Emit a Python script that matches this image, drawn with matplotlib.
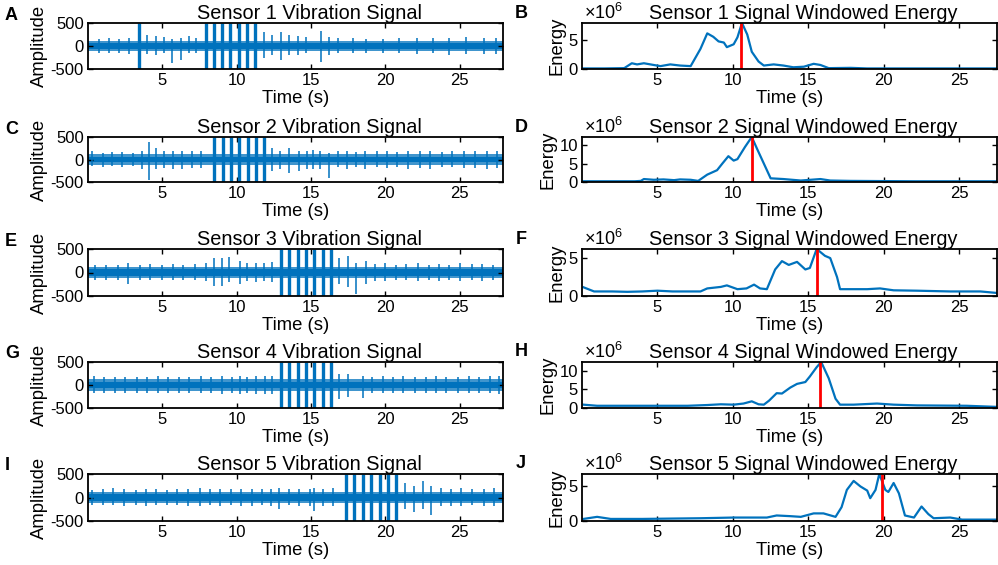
import matplotlib.pyplot as plt

plt.rcParams['font.family'] = ['Liberation Sans', 'DejaVu Sans']
plt.rcParams['axes.unicode_minus'] = False
plt.rcParams['mathtext.fontset'] = 'custom'
plt.rcParams['mathtext.rm'] = 'Liberation Sans'

BLUE = '#0072BD'

sensors = ['Sensor 1', 'Sensor 2', 'Sensor 3', 'Sensor 4', 'Sensor 5']
left_letters = ['A', 'C', 'E', 'G', 'I']
right_letters = ['B', 'D', 'F', 'H', 'J']
time_ticks = [5, 10, 15, 20, 25]
amp_ticks = [-500, 0, 500]

# vibration: background noise (dense core, lighter fringe) and visible peaks (time s, up, down)
noise_core = [65, 65, 70, 75, 65]
noise_fringe = [115, 115, 120, 125, 110]

s1_spikes = [(0.75, 150, 150), (1.4, 170, 150), (2.1, 160, 150), (2.76, 180, 170),
             (3.43, 500, 500), (4.0, 230, 170), (4.55, 220, 200), (5.1, 200, 150),
             (5.63, 150, 370), (6.24, 180, 310), (6.8, 220, 150), (7.25, 180, 150),
             (7.92, 500, 500), (8.48, 500, 500), (9.0, 500, 500), (9.54, 500, 500),
             (10.12, 500, 500), (10.66, 500, 500), (11.2, 500, 500), (11.85, 300, 250),
             (12.4, 250, 200), (12.97, 300, 300), (13.5, 250, 200), (14.1, 220, 200),
             (14.66, 200, 150), (15.67, 320, 350), (16.2, 200, 200), (16.8, 180, 150),
             (17.8, 180, 150), (18.7, 160, 150), (19.8, 150, 150), (20.9, 170, 150),
             (22.1, 170, 170), (23.2, 180, 160), (24.3, 180, 200), (25.4, 200, 170),
             (26.6, 180, 170), (27.45, 170, 170)]

s2_spikes = [(0.3, 180, 150), (1.0, 150, 170), (1.6, 160, 150), (2.3, 170, 160),
             (3.0, 150, 150), (3.6, 180, 200), (4.1, 380, 460), (4.55, 250, 200),
             (5.1, 180, 180), (5.7, 200, 200), (6.35, 200, 200), (7.0, 190, 180),
             (7.6, 200, 180), (8.48, 500, 500), (9.05, 500, 500), (9.6, 500, 500),
             (10.17, 500, 500), (10.73, 500, 500), (11.3, 500, 500), (11.85, 500, 500),
             (12.4, 250, 250), (12.9, 200, 200), (13.5, 250, 300), (14.2, 200, 250),
             (14.7, 180, 200), (15.1, 220, 220), (15.6, 200, 200), (16.2, 150, 400),
             (16.8, 180, 170), (17.4, 200, 200), (18.0, 170, 170), (18.6, 200, 200),
             (19.4, 180, 160), (20.1, 200, 180), (20.8, 170, 170), (21.5, 190, 200),
             (22.3, 200, 180), (23.0, 180, 200), (23.8, 170, 170), (24.5, 180, 160),
             (25.3, 200, 180), (26.0, 180, 180), (26.8, 200, 200), (27.5, 180, 180)]

s3_spikes = [(0.5, 150, 160), (1.2, 160, 150), (2.0, 150, 170), (2.7, 200, 250),
             (3.5, 170, 160), (4.2, 180, 170), (5.0, 170, 150), (5.7, 180, 170),
             (6.4, 160, 160), (7.2, 180, 170), (7.9, 200, 180), (8.48, 300, 280),
             (9.0, 300, 280), (9.5, 320, 200), (10.2, 250, 250), (10.7, 200, 180),
             (11.3, 200, 200), (11.8, 200, 180), (12.4, 220, 200), (12.97, 500, 500),
             (13.5, 500, 500), (14.1, 500, 500), (14.66, 500, 500), (15.2, 500, 500),
             (15.78, 500, 500), (16.34, 500, 500), (16.9, 300, 250), (17.5, 350, 300),
             (18.0, 200, 450), (18.7, 250, 250), (19.3, 180, 180), (20.0, 200, 180),
             (20.7, 170, 170), (21.4, 180, 160), (22.2, 200, 180), (22.9, 170, 170),
             (23.6, 180, 180), (24.3, 170, 170), (25.0, 200, 180), (25.8, 180, 170),
             (26.5, 190, 180), (27.2, 170, 170)]

s4_spikes = [(0.4, 200, 180), (1.1, 180, 170), (1.8, 170, 170), (2.5, 180, 180),
             (3.3, 170, 170), (4.0, 180, 170), (4.7, 190, 180), (5.4, 170, 170),
             (6.1, 180, 180), (6.8, 180, 170), (7.6, 190, 180), (8.3, 180, 180),
             (9.0, 200, 200), (9.7, 180, 180), (10.2, 200, 200), (10.7, 180, 180),
             (11.3, 200, 200), (11.9, 190, 190), (12.4, 200, 200), (12.97, 500, 500),
             (13.5, 500, 500), (14.1, 500, 500), (14.66, 500, 500), (15.2, 500, 500),
             (15.78, 500, 500), (16.34, 500, 500), (16.9, 250, 300), (17.5, 250, 250),
             (18.5, 200, 280), (19.1, 180, 180), (19.8, 190, 180), (20.5, 180, 170),
             (21.2, 190, 180), (22.0, 180, 180), (22.7, 180, 170), (23.4, 190, 180),
             (24.1, 180, 180), (24.9, 180, 170), (25.6, 200, 180), (26.3, 180, 180),
             (27.0, 190, 180), (27.6, 200, 190)]

s5_spikes = [(0.3, 170, 160), (1.0, 180, 170), (1.7, 200, 170), (2.4, 180, 180),
             (3.2, 170, 160), (3.9, 190, 180), (4.6, 180, 170), (5.3, 170, 170),
             (6.0, 180, 170), (6.7, 180, 180), (7.5, 200, 180), (8.2, 180, 170),
             (8.9, 190, 180), (9.6, 180, 170), (10.3, 180, 180), (11.0, 190, 180),
             (11.7, 180, 170), (12.3, 190, 180), (12.86, 200, 250), (13.5, 180, 170),
             (14.2, 190, 180), (14.9, 180, 180), (15.2, 200, 280), (15.8, 190, 180),
             (16.5, 200, 190), (17.35, 500, 500), (17.9, 500, 500), (18.47, 500, 500),
             (19.03, 500, 500), (19.6, 500, 500), (20.16, 500, 500), (20.72, 500, 500),
             (21.3, 300, 250), (21.95, 250, 300), (22.5, 350, 250), (23.07, 250, 380),
             (23.7, 200, 180), (24.4, 190, 180), (25.1, 200, 180), (25.8, 180, 170),
             (26.6, 190, 180), (27.3, 200, 180)]

vib_spikes = [s1_spikes, s2_spikes, s3_spikes, s4_spikes, s5_spikes]

# windowed energy, in units of 1e6
e1_t = [0.1, 1.5, 2.8, 3.3, 3.65, 4.1, 4.75, 5.2, 5.85, 6.5, 7.2, 7.85, 8.3, 8.7,
        9.05, 9.4, 9.6, 10.05, 10.3, 10.6, 10.95, 11.25, 11.7, 12.05, 12.7, 13.35,
        14.0, 14.7, 15.35, 15.8, 16.35, 17.8, 18.9, 22.0, 27.5]
e1_v = [0.1, 0.1, 0.15, 1.0, 0.8, 1.0, 0.7, 0.5, 0.8, 0.6, 0.5, 3.5, 6.2, 5.6,
        4.8, 4.6, 3.8, 4.3, 5.5, 8.0, 6.0, 3.0, 1.3, 0.6, 0.8, 0.6,
        0.3, 0.4, 0.9, 0.7, 0.15, 0.2, 0.1, 0.1, 0.1]

e2_t = [0.1, 2.0, 3.5, 3.9, 4.1, 4.75, 5.4, 6.1, 6.5, 7.2, 7.7, 8.3, 8.95, 9.3,
        9.7, 10.05, 10.3, 10.8, 11.25, 11.6, 12.05, 12.5, 13.35, 14.5, 15.8, 16.45,
        17.8, 22.0, 27.5]
e2_v = [0.2, 0.2, 0.2, 0.3, 0.8, 0.6, 0.7, 0.5, 0.7, 0.6, 0.3, 2.0, 3.2, 5.0,
        7.0, 5.8, 6.2, 9.5, 12.2, 9.0, 5.0, 1.0, 0.8, 0.4, 0.8, 0.4,
        0.3, 0.2, 0.2]

e3_t = [0.1, 0.8, 2.0, 3.0, 4.0, 5.0, 6.0, 7.0, 7.85, 8.3, 9.2, 9.6, 10.3, 10.9,
        11.4, 11.8, 12.25, 12.8, 13.25, 13.7, 14.25, 14.8, 15.1, 15.55, 16.1, 16.45,
        16.9, 17.1, 18.0, 18.9, 19.75, 20.65, 22.2, 24.4, 26.4, 27.5]
e3_v = [1.15, 0.6, 0.6, 0.55, 0.6, 0.7, 0.6, 0.6, 0.6, 1.0, 1.2, 1.4, 0.9, 1.0,
        1.5, 1.0, 0.9, 3.5, 4.6, 4.1, 4.5, 3.5, 3.7, 6.2, 5.3, 5.0,
        2.5, 0.9, 0.9, 0.9, 1.0, 0.75, 0.7, 0.6, 0.6, 0.4]

e4_t = [0.1, 1.0, 3.0, 5.0, 7.0, 8.3, 9.2, 10.05, 10.7, 11.25, 11.7, 12.05, 12.4,
        12.9, 13.25, 13.8, 14.25, 14.8, 15.1, 15.55, 15.85, 16.35, 16.8, 17.1, 18.0,
        19.55, 20.65, 22.2, 25.5, 27.5]
e4_v = [0.9, 0.6, 0.6, 0.6, 0.6, 0.8, 1.0, 0.9, 1.2, 1.8, 1.0, 0.9, 2.0,
        4.0, 3.9, 5.5, 6.5, 7.0, 8.5, 11.0, 12.4, 8.0, 2.5, 0.9, 0.9,
        1.2, 0.9, 0.7, 0.6, 0.3]

e5_t = [0.1, 1.0, 1.9, 4.0, 7.85, 10.05, 12.25, 12.9, 13.8, 14.5, 15.35, 16.0, 16.8,
        17.2, 17.55, 18.0, 18.45, 18.9, 19.1, 19.45, 19.7, 20.1, 20.3, 20.65, 21.0,
        21.4, 22.0, 22.5, 22.95, 23.3, 24.4, 25.2, 27.5]
e5_v = [0.3, 0.6, 0.3, 0.3, 0.4, 0.5, 0.5, 0.8, 0.7, 0.6, 1.1, 1.1, 0.6,
        2.0, 4.5, 5.8, 5.0, 4.4, 3.3, 4.5, 6.8, 4.5, 4.2, 5.5, 4.0,
        0.8, 0.5, 2.1, 1.0, 0.4, 0.5, 0.2, 0.2]

energy_t = [e1_t, e2_t, e3_t, e4_t, e5_t]
energy_v = [e1_v, e2_v, e3_v, e4_v, e5_v]
peak_times = [10.54, 11.27, 15.57, 15.8, 19.87]
energy_top = [8.0, 12.2, 6.2, 12.4, 6.8]
energy_ticks = [[0, 5], [0, 5, 10], [0, 5], [0, 5, 10], [0, 5]]

vib_xmax = 27.9
energy_xmax = 27.5

W, H = 998, 565
row_top = [23, 137, 249, 362, 474]
row_bot = [69, 182, 296, 408, 521]


def rect(x0, x1, y0, y1):
    return [x0 / W, 1 - y1 / H, (x1 - x0) / W, (y1 - y0) / H]


def style(ax):
    for sp in ax.spines.values():
        sp.set_linewidth(1.3)
    ax.tick_params(direction='in', top=True, right=True, length=3.5, width=1,
                   labelsize=12, pad=3)


fig = plt.figure(figsize=(9.98, 5.65), dpi=100)

for i in range(5):
    # vibration signal
    ax = fig.add_axes(rect(88, 503, row_top[i], row_bot[i]))
    ax.fill_between([0, vib_xmax], -noise_fringe[i], noise_fringe[i],
                    color=BLUE, alpha=0.75, lw=0)
    ax.fill_between([0, vib_xmax], -noise_core[i], noise_core[i],
                    color=BLUE, lw=0)
    for t, up, dn in vib_spikes[i]:
        lw = 2.4 if up >= 500 else 1.1
        ax.vlines(t, -dn, up, color=BLUE, lw=lw)
    ax.set_xlim(0, vib_xmax)
    ax.set_ylim(-500, 500)
    ax.set_xticks(time_ticks)
    ax.set_yticks(amp_ticks)
    ax.set_yticklabels([str(v) for v in amp_ticks])
    ax.set_xlabel('Time (s)', fontsize=13.3, labelpad=1)
    ax.set_ylabel('Amplitude', fontsize=13.3, labelpad=2)
    ax.set_title(sensors[i] + ' Vibration Signal', fontsize=14.3, x=0.534, pad=3)
    style(ax)
    fig.text(5 / W, 1 - (row_top[i] - 8) / H, left_letters[i], fontsize=13,
             fontweight='bold', va='center', ha='left')

    # windowed energy
    ax = fig.add_axes(rect(582, 997, row_top[i], row_bot[i]))
    ax.plot(energy_t[i], energy_v[i], color=BLUE, lw=1.6)
    ax.axvline(peak_times[i], color='red', lw=2)
    ax.set_xlim(0, energy_xmax)
    ax.set_ylim(0, energy_top[i])
    ax.set_xticks(time_ticks)
    ax.set_yticks(energy_ticks[i])
    ax.set_xlabel('Time (s)', fontsize=13.3, labelpad=1)
    ax.set_ylabel('Energy', fontsize=13.3, labelpad=2)
    ax.set_title(sensors[i] + ' Signal Windowed Energy', fontsize=14.3,
                 x=0.534, pad=3)
    ax.text(0.005, 1.01, r'$\mathregular{\times10^{6}}$', transform=ax.transAxes,
            fontsize=13, ha='left', va='bottom')
    style(ax)
    fig.text(521 / W, 1 - (row_top[i] - 10) / H, right_letters[i], fontsize=13,
             fontweight='bold', va='center', ha='center')

fig.savefig('out.png', dpi=100)
